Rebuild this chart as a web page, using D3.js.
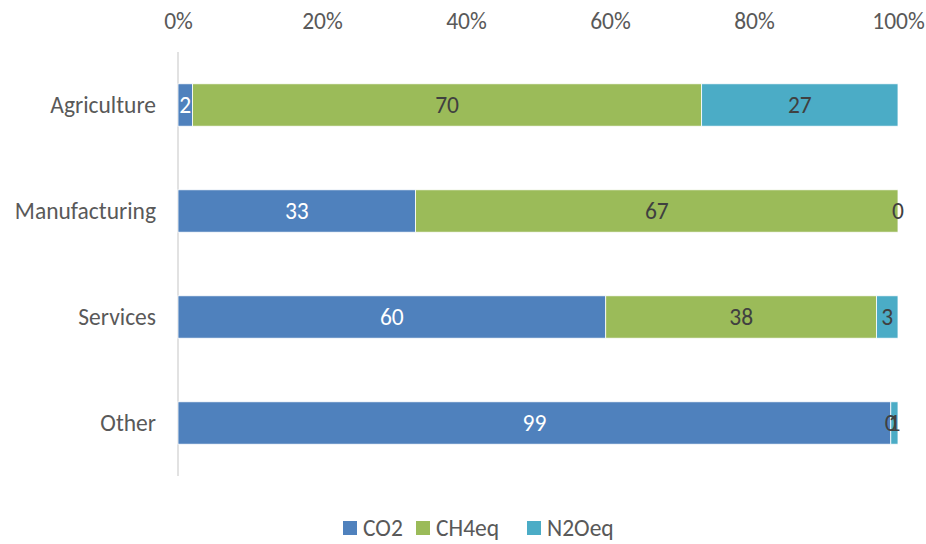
<!DOCTYPE html>
<html>
<head>
<meta charset="utf-8">
<script src="https://cdn.jsdelivr.net/npm/d3@7"></script>
<style>
  html, body { margin: 0; padding: 0; background: #fff; }
  svg text { font-family: Carlito, Calibri, Lato, "Open Sans", sans-serif; }
</style>
</head>
<body>
<svg id="chart" width="926" height="544"></svg>
<script>
// Share of emissions by gas, per sector
const categories = ["Agriculture", "Manufacturing", "Services", "Other"];
const seriesNames = ["CO2", "CH4eq", "N2Oeq"];
const co2 = [2, 33, 60, 99];
const ch4 = [70, 67, 38, 0];
const n2o = [27, 0, 3, 1];
const tickValues = [0, 0.2, 0.4, 0.6, 0.8, 1];
const colors = ["#4F81BD", "#9BBB59", "#4BACC6"];
const labelColors = ["#ffffff", "#404040", "#404040"];
const fontSize = 23.5;

const rows = categories.map((c, i) => ({ cat: c, CO2: co2[i], CH4eq: ch4[i], N2Oeq: n2o[i] }));
// normalise each row to a 100% total
const norm = rows.map(r => {
  const t = r.CO2 + r.CH4eq + r.N2Oeq;
  return { cat: r.cat, CO2: r.CO2 / t, CH4eq: r.CH4eq / t, N2Oeq: r.N2Oeq / t, raw: r };
});
const stacked = d3.stack().keys(seriesNames)(norm);

const svg = d3.select("#chart");
const x = d3.scaleLinear().domain([0, 1]).range([178, 898]);
const y = d3.scaleBand().domain(categories).range([52, 476]).paddingInner(0.6).paddingOuter(0.3);

// top axis
const xAxis = d3.axisTop(x).tickValues(tickValues).tickFormat(d3.format(".0%")).tickSize(0).tickPadding(0);
const gx = svg.append("g").attr("transform", "translate(0,29)").call(xAxis);
gx.select(".domain").remove();
gx.selectAll("text").attr("fill", "#595959").attr("font-size", fontSize).attr("dy", 0);

// category axis line
svg.append("line")
  .attr("x1", x(0)).attr("x2", x(0))
  .attr("y1", 52).attr("y2", 476)
  .attr("stroke", "#d9d9d9").attr("stroke-width", 1.5);

const yAxis = d3.axisLeft(y).tickSize(0).tickPadding(22);
const gy = svg.append("g").attr("transform", `translate(${x(0)},0)`).call(yAxis);
gy.select(".domain").remove();
gy.selectAll("text").attr("fill", "#595959").attr("font-size", fontSize);

// bars
const layers = svg.append("g").selectAll("g").data(stacked).join("g")
  .attr("fill", (d, i) => colors[i]);
layers.selectAll("rect").data(d => d).join("rect")
  .attr("x", d => x(d[0]))
  .attr("y", d => y(d.data.cat))
  .attr("width", d => Math.max(0, x(d[1]) - x(d[0])))
  .attr("height", y.bandwidth())
  .attr("stroke", "#ffffff").attr("stroke-width", 0.8);

// value labels
stacked.forEach((layer, si) => {
  svg.append("g").selectAll("text").data(layer).join("text")
    .attr("x", d => (x(d[0]) + x(d[1])) / 2)
    .attr("y", d => y(d.data.cat) + y.bandwidth() / 2)
    .attr("dy", "0.35em")
    .attr("text-anchor", "middle")
    .attr("font-size", fontSize)
    .attr("fill", labelColors[si])
    .text(d => d.data.raw[seriesNames[si]]);
});

// legend
const legendX = [343, 416, 527];
const lg = svg.append("g").selectAll("g").data(seriesNames).join("g")
  .attr("transform", (d, i) => `translate(${legendX[i]},521)`);
lg.append("rect").attr("width", 14).attr("height", 14).attr("fill", (d, i) => colors[i]);
lg.append("text").attr("x", 20).attr("y", 7).attr("dy", "0.35em")
  .attr("font-size", fontSize).attr("fill", "#595959").text(d => d);
</script>
</body>
</html>
